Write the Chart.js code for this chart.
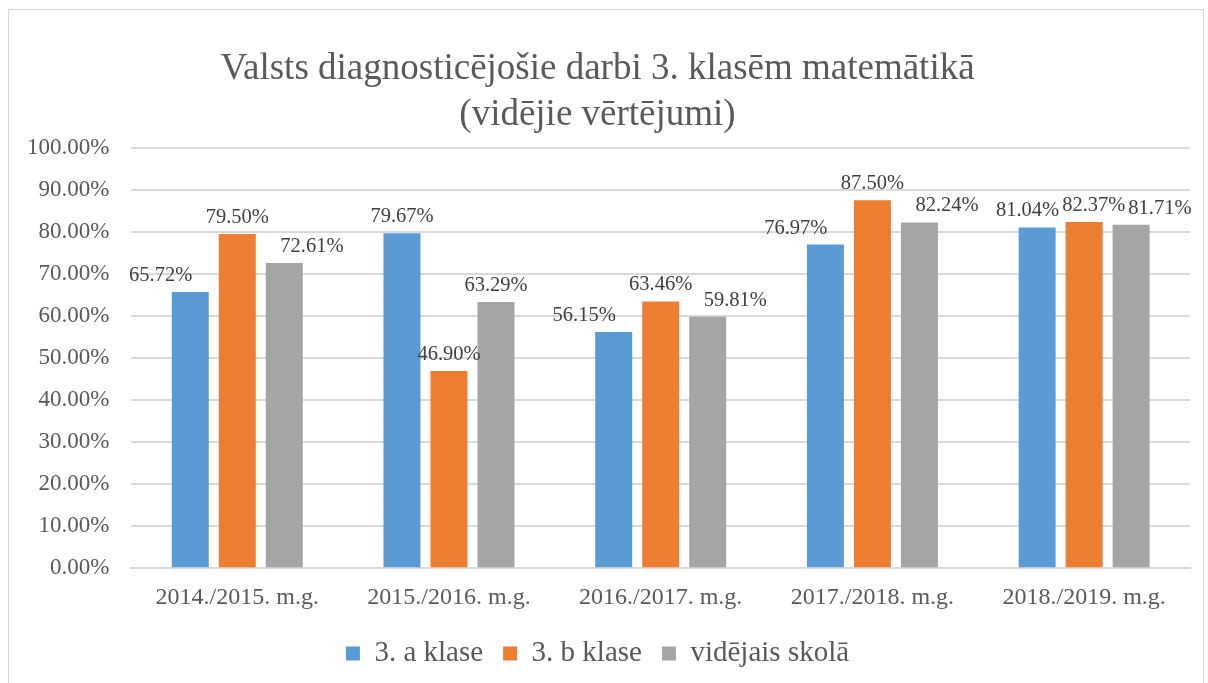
<!DOCTYPE html>
<html>
<head>
<meta charset="utf-8">
<script src="https://cdn.jsdelivr.net/npm/chart.js@4.4.1/dist/chart.umd.min.js"></script>
<style>
  html, body { margin: 0; padding: 0; background: #fff; overflow: hidden; }
  #wrap { position: relative; width: 1208px; height: 683px; }
  #frame { position: absolute; left: 8px; top: 9px; width: 1194px; height: 700px; border: 1px solid #d9d9d9; pointer-events: none; }
</style>
</head>
<body>
<div id="wrap">
  <canvas id="chart" width="1208" height="683"></canvas>
  <div id="frame"></div>
</div>
<script>
// School years on the x axis
const years = ['2014./2015. m.g.', '2015./2016. m.g.', '2016./2017. m.g.', '2017./2018. m.g.', '2018./2019. m.g.'];

// Average results (percent) per class
const classA = [65.72, 79.67, 56.15, 76.97, 81.04];
const classB = [79.50, 46.90, 63.46, 87.50, 82.37];
const schoolAvg = [72.61, 63.29, 59.81, 82.24, 81.71];

const seriesNames = ['3. a klase', '3. b klase', 'vidējais skolā'];
const seriesColors = ['#5b9bd5', '#ed7d31', '#a5a5a5'];

const serif = "'Liberation Serif', 'Times New Roman', serif";
const textColor = '#595959';

// Value labels above bars; side labels slide away when they would
// run into the middle bar or its label (roughly what Excel does)
const barLabels = {
  id: 'barLabels',
  afterDatasetsDraw(chart) {
    const ctx = chart.ctx;
    const size = 20.5, gap = 11;
    ctx.save();
    ctx.font = size + 'px ' + serif;
    ctx.fillStyle = '#404040';
    ctx.textBaseline = 'alphabetic';
    ctx.textAlign = 'left';
    const overlap = (a, b) => a.left < b.left + b.w && a.left + a.w > b.left && a.bottom > b.top && a.top < b.bottom;
    chart.data.labels.forEach((_, j) => {
      const bars = [0, 1, 2].map(i => chart.getDatasetMeta(i).data[j]);
      const boxes = bars.map((bar, i) => {
        const text = chart.data.datasets[i].data[j].toFixed(2) + '%';
        const w = ctx.measureText(text).width;
        const base = bar.y - gap;
        return { text, w, base, left: bar.x - w / 2, top: base - size * 0.9, bottom: base + size * 0.2 };
      });
      const mid = bars[1];
      const midRect = { left: mid.x - mid.width / 2, w: mid.width, top: mid.y, bottom: mid.base };
      // side label hitting the middle bar: snap next to its own bar centre
      if (overlap(boxes[0], midRect)) boxes[0].left = bars[0].x + 2 - boxes[0].w;
      if (overlap(boxes[2], midRect)) boxes[2].left = bars[2].x - 4;
      // left label vs middle label: push both apart
      if (overlap(boxes[0], boxes[1])) {
        const d = (boxes[0].left + boxes[0].w + 3 - boxes[1].left) / 2;
        boxes[0].left -= d;
        boxes[1].left += d;
      }
      // right label vs middle label: move the right one
      if (overlap(boxes[2], boxes[1])) boxes[2].left = boxes[1].left + boxes[1].w + 3;
      boxes.forEach(b => ctx.fillText(b.text, b.left, b.base));
    });
    ctx.restore();
  }
};

const ctx = document.getElementById('chart').getContext('2d');
new Chart(ctx, {
  type: 'bar',
  data: {
    labels: years,
    datasets: [classA, classB, schoolAvg].map((values, i) => ({
      label: seriesNames[i],
      data: values,
      backgroundColor: seriesColors[i],
      borderWidth: 0,
      categoryPercentage: 0.666,
      barPercentage: 0.787
    }))
  },
  options: {
    responsive: false,
    animation: false,
    layout: { padding: { left: 5, right: 18, top: 6, bottom: 5 } },
    plugins: {
      title: {
        display: true,
        text: ['Valsts diagnosticējošie darbi 3. klasēm matemātikā', '(vidējie vērtējumi)'],
        color: textColor,
        font: { family: serif, size: 37, weight: 'normal', lineHeight: 1.24 },
        padding: { top: 40, bottom: 10 }
      },
      legend: {
        position: 'bottom',
        labels: {
          color: textColor,
          font: { family: serif, size: 29 },
          boxWidth: 14,
          boxHeight: 14,
          padding: 20
        }
      },
      tooltip: { enabled: false }
    },
    scales: {
      x: {
        grid: { display: false },
        border: { color: '#d9d9d9', width: 2 },
        ticks: { color: textColor, font: { family: serif, size: 24 }, padding: 7 },
        afterFit(scale) { scale.height += 0; }
      },
      y: {
        min: 0,
        max: 100,
        grid: { color: '#d9d9d9', lineWidth: 2, drawTicks: false },
        border: { display: false },
        ticks: {
          stepSize: 10,
          color: textColor,
          font: { family: serif, size: 23 },
          padding: 22,
          callback: v => v.toFixed(2) + '%'
        }
      }
    }
  },
  plugins: [barLabels]
});
</script>
</body>
</html>
